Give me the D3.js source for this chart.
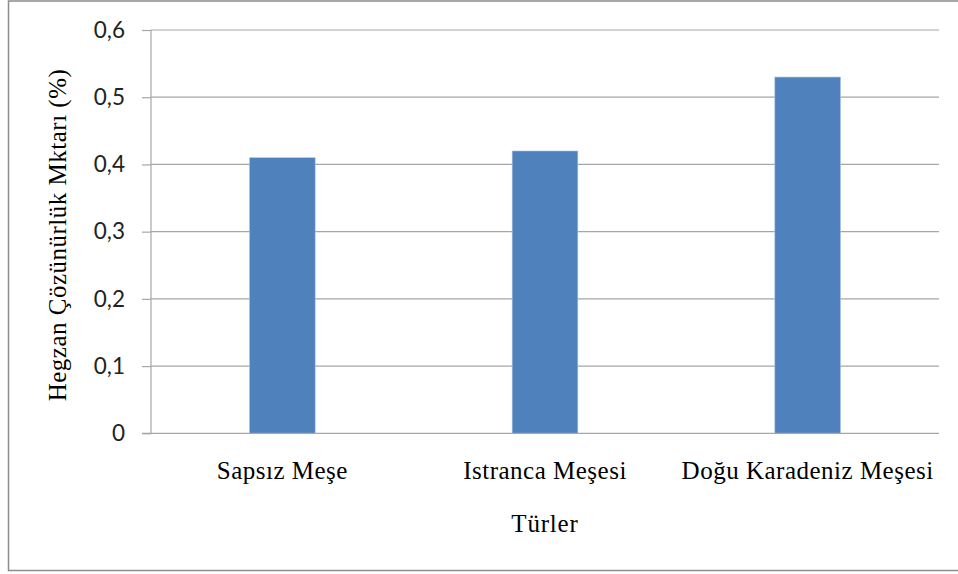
<!DOCTYPE html>
<html><head><meta charset="utf-8">
<script src="https://cdn.jsdelivr.net/npm/d3@7"></script>
<style>body{margin:0;background:#fff}svg{display:block}</style>
</head><body>
<svg id="c" width="958" height="574"></svg>
<script>
const categories = ["Sapsız Meşe", "Istranca Meşesi", "Doğu Karadeniz Meşesi"];
const values = [0.41, 0.42, 0.53];
const yTicks = [0, 0.1, 0.2, 0.3, 0.4, 0.5, 0.6];
const yTickLabels = ["0", "0,1", "0,2", "0,3", "0,4", "0,5", "0,6"];
const yTitle = "Hegzan Çözünürlük Mktarı (%)";
const xTitle = "Türler";

const svg = d3.select("#c");
const pLeft = 151, pRight = 939, pTop = 30, pBottom = 433.3;
const serif = "'Liberation Serif', 'Times New Roman', serif";

svg.append("rect").attr("x", 8.5).attr("y", 1).attr("width", 960).attr("height", 569.5)
  .attr("fill", "#fff").attr("stroke", "#8c8c8c").attr("stroke-width", 1.5);

const x = d3.scaleBand().domain(categories).range([pLeft, pRight]).paddingInner(0.75).paddingOuter(0.375);
const y = d3.scaleLinear().domain([0, 0.6]).range([pBottom, pTop]);

// gridlines
svg.append("g").selectAll("line").data(yTicks.filter(d => d > 0)).join("line")
  .attr("x1", pLeft).attr("x2", pRight)
  .attr("y1", d => y(d)).attr("y2", d => y(d))
  .attr("stroke", "#a6a6a6").attr("stroke-width", 1.2);

// bars
svg.append("g").selectAll("rect").data(values).join("rect")
  .attr("x", (d, i) => x(categories[i]))
  .attr("width", x.bandwidth())
  .attr("y", d => y(d))
  .attr("height", d => y(0) - y(d))
  .attr("fill", "#4f81bd").attr("stroke", "#a9c4e4").attr("stroke-width", 0.6);

// y axis
const yAxis = d3.axisLeft(y).tickValues(yTicks).tickFormat((d, i) => yTickLabels[i]).tickSize(9).tickPadding(17);
const gy = svg.append("g").attr("transform", `translate(${pLeft},0)`).call(yAxis);
gy.select(".domain").attr("stroke", "#a6a6a6").attr("stroke-width", 1.2).attr("d", `M0,${pTop}V${pBottom}`);
gy.selectAll(".tick line").attr("stroke", "#a6a6a6").attr("stroke-width", 1.2);
gy.selectAll(".tick text").attr("font-family", "Lato, 'Open Sans', sans-serif").attr("font-size", 22.5).attr("fill", "#222");

// x axis
const xAxis = d3.axisBottom(x).tickSize(0);
const gx = svg.append("g").attr("transform", `translate(0,${pBottom})`).call(xAxis);
gx.select(".domain").attr("stroke", "#a6a6a6").attr("stroke-width", 1.2).attr("d", `M${pLeft - 9},0H${pRight}`);
gx.selectAll(".tick text").attr("font-family", serif).attr("font-size", 25)
  .attr("letter-spacing", 0.5).attr("y", 46).attr("dy", 0).attr("fill", "#000");

// titles
svg.append("text").attr("x", 545).attr("y", 532).attr("text-anchor", "middle")
  .attr("font-family", serif).attr("font-size", 25).attr("letter-spacing", 0.8).text(xTitle);
svg.append("text").attr("transform", "translate(66,235) rotate(-90)").attr("text-anchor", "middle")
  .attr("font-family", serif).attr("font-size", 25).attr("letter-spacing", 0.5).text(yTitle);
</script>
</body></html>
